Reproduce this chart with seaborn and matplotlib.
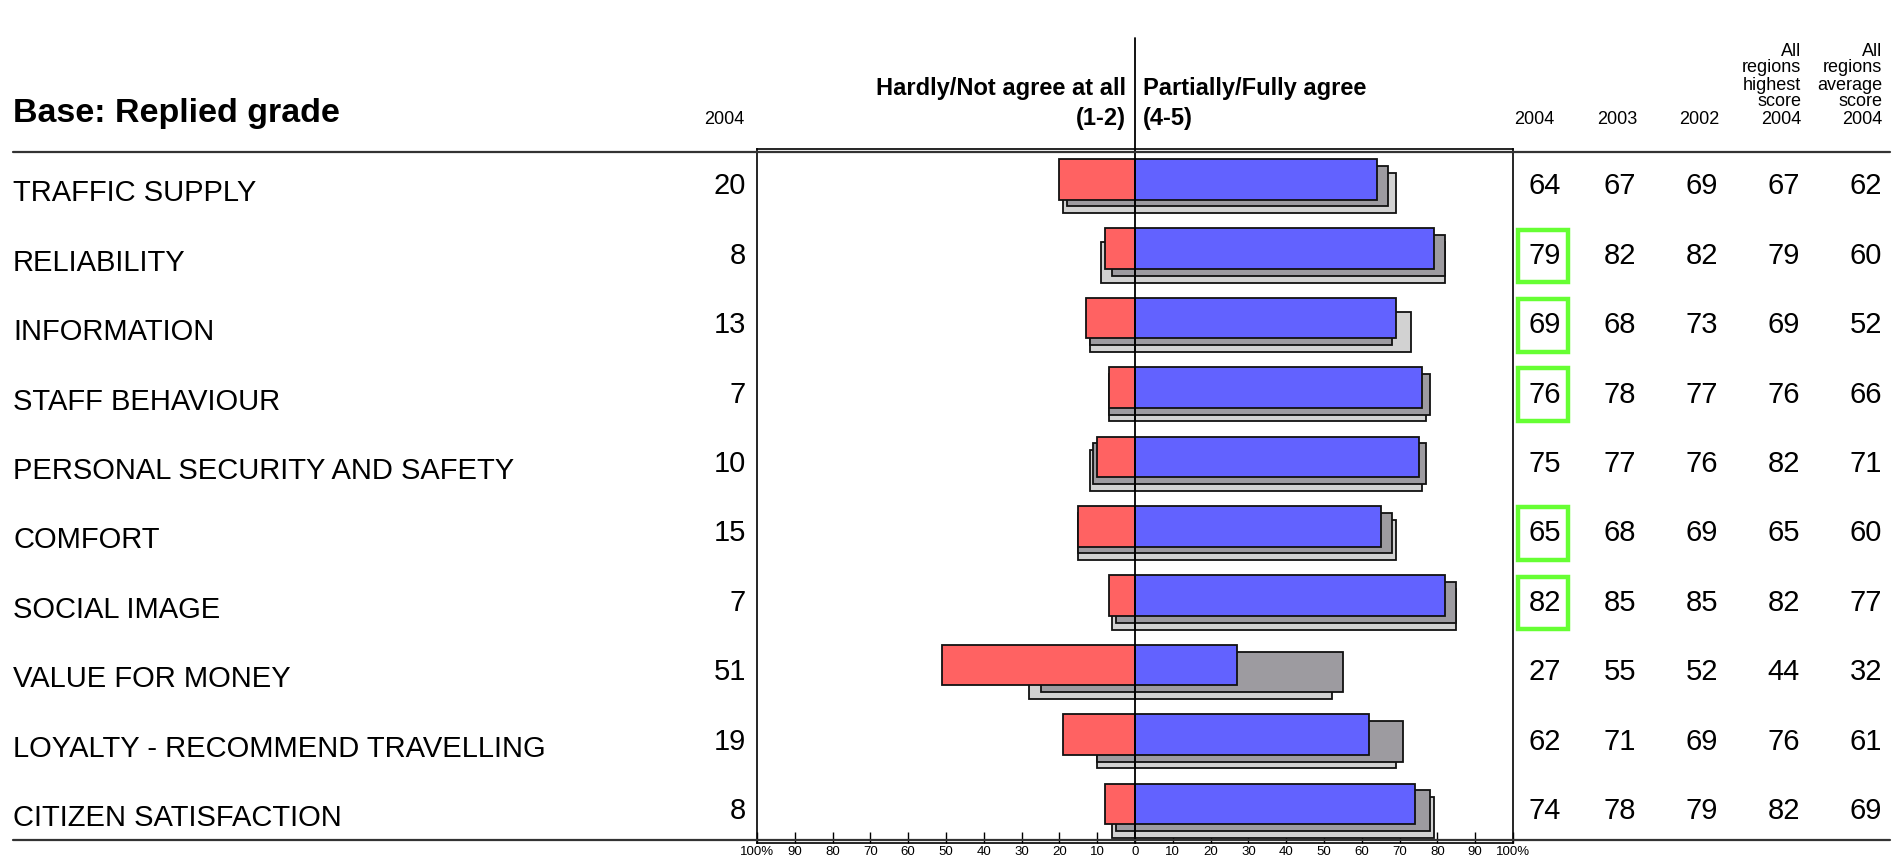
import numpy as np
import pandas as pd
import matplotlib
matplotlib.use("Agg")
import matplotlib.pyplot as plt
import matplotlib.transforms as mtransforms
from matplotlib.lines import Line2D
from matplotlib.patches import Rectangle
import seaborn as sns

# ---------------- data ----------------
categories = ["TRAFFIC SUPPLY", "RELIABILITY", "INFORMATION", "STAFF BEHAVIOUR",
              "PERSONAL SECURITY AND SAFETY", "COMFORT", "SOCIAL IMAGE",
              "VALUE FOR MONEY", "LOYALTY - RECOMMEND TRAVELLING", "CITIZEN SATISFACTION"]
disagree_2004 = [20, 8, 13, 7, 10, 15, 7, 51, 19, 8]
disagree_2003 = [18, 6, 12, 7, 11, 15, 5, 25, 10, 5]
disagree_2002 = [19, 9, 12, 7, 12, 15, 6, 28, 10, 6]
agree_2004 = [64, 79, 69, 76, 75, 65, 82, 27, 62, 74]
agree_2003 = [67, 82, 68, 78, 77, 68, 85, 55, 71, 78]
agree_2002 = [69, 82, 73, 77, 76, 69, 85, 52, 69, 79]
highest_2004 = [67, 79, 69, 76, 82, 65, 82, 44, 76, 82]
average_2004 = [62, 60, 52, 66, 71, 60, 77, 32, 61, 69]
xtick_values = list(range(-100, 101, 10))
xtick_labels = ["100%", "90", "80", "70", "60", "50", "40", "30", "20", "10", "0",
                "10", "20", "30", "40", "50", "60", "70", "80", "90", "100%"]
right_headers = [["2004"], ["2003"], ["2002"],
                 ["All", "regions", "highest", "score", "2004"],
                 ["All", "regions", "average", "score", "2004"]]

# ---------------- style ----------------
W, H = 1901, 858
sns.set_theme(style="white")
plt.rcParams["font.family"] = ["Liberation Sans", "DejaVu Sans"]
plt.rcParams["text.color"] = "black"
plt.rcParams["xtick.color"] = "black"
plt.rcParams["xtick.labelcolor"] = "black"

RED = "#FF6262"
BLUE = "#6262FF"
DARK = "#9D9BA0"
LIGHT = "#D2D2D2"
EDGE = "#111111"
GREEN = "#66FF33"

fig = plt.figure(figsize=(W / 100, H / 100), dpi=100)
fig.patch.set_facecolor("white")

def fx(px):
    return px / W

def fy(py):
    return 1 - py / H

ax_left, ax_right, ax_top, ax_bottom = 757, 1513, 149, 843
ax = fig.add_axes([fx(ax_left), fy(ax_bottom), fx(ax_right - ax_left),
                   (ax_bottom - ax_top) / H])

pos = np.arange(len(categories))
bar_h = 0.584
series = [
    (disagree_2002, agree_2002, LIGHT, LIGHT, 0.134),
    (disagree_2003, agree_2003, DARK, DARK, 0.034),
    (disagree_2004, agree_2004, RED, BLUE, -0.063),
]
for neg, posv, cneg, cpos, off in series:
    df = pd.DataFrame({"y": pos + off,
                       "neg": -np.asarray(neg, dtype=float),
                       "pos": np.asarray(posv, dtype=float)})
    sns.barplot(data=df, x="neg", y="y", orient="h", native_scale=True,
                width=bar_h, color=cneg, saturation=1, edgecolor=EDGE,
                linewidth=1.3, errorbar=None, ax=ax)
    sns.barplot(data=df, x="pos", y="y", orient="h", native_scale=True,
                width=bar_h, color=cpos, saturation=1, edgecolor=EDGE,
                linewidth=1.3, errorbar=None, ax=ax)

ax.set_xlim(-100, 100)
ax.set_ylim(len(categories) - 0.5, -0.5)
ax.set_xlabel("")
ax.set_ylabel("")
ax.set_yticks([])
ax.set_xticks(xtick_values)
ax.set_xticklabels(xtick_labels, fontsize=9.5)
ax.tick_params(axis="x", direction="in", length=8, width=1, color="black",
               pad=2, bottom=True, top=False)
for s in ax.spines.values():
    s.set_visible(True)
    s.set_color("black")
    s.set_linewidth(1.2)

# central zero line extending above the axes
ax.axvline(0, ymin=0, ymax=(ax_bottom - 38) / (ax_bottom - ax_top),
           clip_on=False, color="black", lw=1.3, zorder=10)

# long horizontal rules
fig.add_artist(Line2D([fx(13), fx(1890)], [fy(152), fy(152)], color="#333333", lw=1.6))
fig.add_artist(Line2D([fx(13), fx(1890)], [fy(840), fy(840)], color="#333333", lw=1.6))

# ---------------- texts ----------------
fig.text(fx(13), fy(122), "Base: Replied grade", fontsize=24.5, fontweight="bold",
         ha="left", va="baseline")
fig.text(fx(724), fy(119), "2004", fontsize=13, ha="center", va="center")
fig.text(fx(1126), fy(88), "Hardly/Not agree at all", fontsize=17, fontweight="bold",
         ha="right", va="center")
fig.text(fx(1126), fy(118), "(1-2)", fontsize=17, fontweight="bold", ha="right", va="center")
fig.text(fx(1143), fy(88), "Partially/Fully agree", fontsize=17, fontweight="bold",
         ha="left", va="center")
fig.text(fx(1143), fy(118), "(4-5)", fontsize=17, fontweight="bold", ha="left", va="center")

header_right = [1554, 1637, 1719, 1801, 1882]
for xr, lines in zip(header_right, right_headers):
    n = len(lines)
    for k, line in enumerate(lines):
        yy = 119 - 17 * (n - 1 - k)
        fig.text(fx(xr), fy(yy), line, fontsize=13, ha="right", va="center")

tr = mtransforms.blended_transform_factory(fig.transFigure, ax.transData)
value_right = [1561, 1636, 1718, 1800, 1882]
cols = [agree_2004, agree_2003, agree_2002, highest_2004, average_2004]
for i, cat in enumerate(categories):
    ax.text(fx(13), i + 0.14, cat, transform=tr, fontsize=21, ha="left", va="center")
    ax.text(fx(746), i + 0.04, str(disagree_2004[i]), transform=tr, fontsize=21,
            ha="right", va="center")
    for xr, col in zip(value_right, cols):
        ax.text(fx(xr), i + 0.04, str(col[i]), transform=tr, fontsize=21,
                ha="right", va="center")
    if agree_2004[i] == highest_2004[i]:
        rect = Rectangle((fx(1518), i + 0.04 - 0.38), fx(50), 0.76, transform=tr,
                         fill=False, edgecolor=GREEN, lw=3.2, clip_on=False)
        fig.add_artist(rect)

fig.savefig("out.png", dpi=100, facecolor="white")
